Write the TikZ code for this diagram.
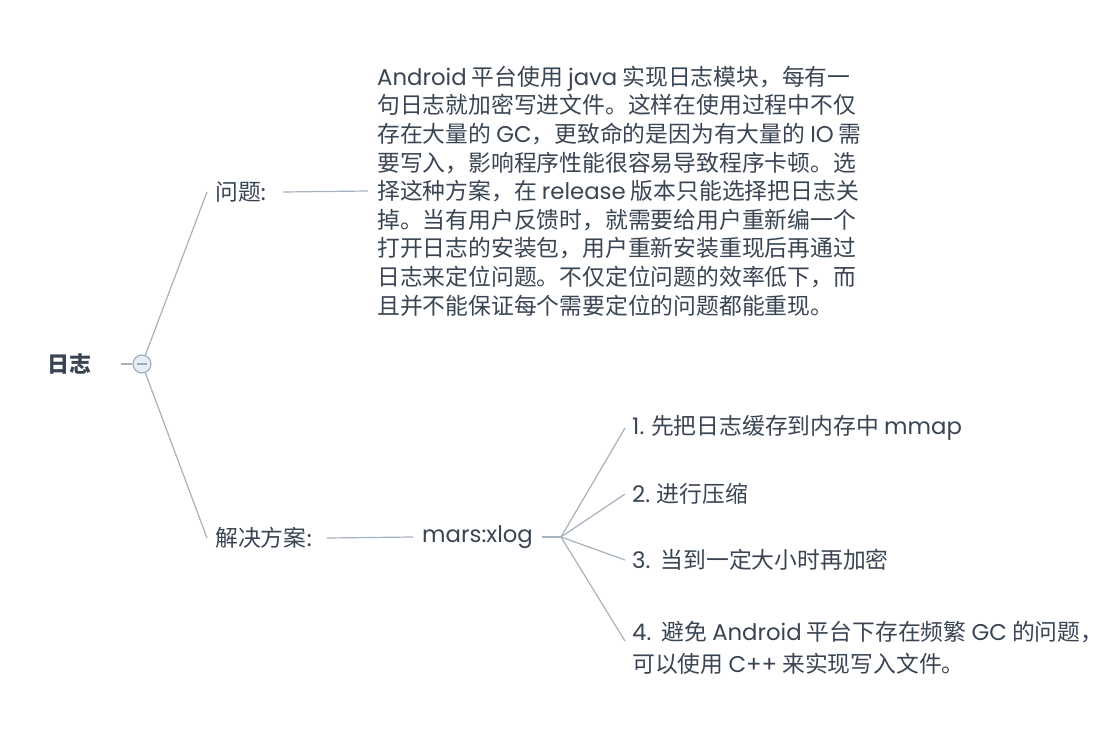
\documentclass[tikz,border=0pt]{standalone}
\usepackage{fontspec}
\setmainfont{Noto Sans CJK SC}
\newfontfamily\lat{Poppins}
\definecolor{txt}{HTML}{3A4554}
\definecolor{ln}{HTML}{A7B2BF}
\definecolor{cfill}{HTML}{E6EDF5}
\definecolor{cdraw}{HTML}{9EABB9}
\begin{document}
\begin{tikzpicture}[x=1pt,y=-1pt,
  lbl/.style={inner sep=0pt,anchor=west,text=txt,font=\fontsize{22.8}{28.6}\selectfont},
  conn/.style={draw=ln,line width=1.2pt}]
\useasboundingbox[fill=white] (0,0) rectangle (1111,735);
% root
\node[lbl,font=\fontsize{22}{28.6}\selectfont\bfseries] (root) at (47,364) {日志};
\node[circle,draw=cdraw,fill=cfill,line width=1.1pt,minimum size=18pt,inner sep=0pt] (col) at (142,364) {};
\draw[cdraw,line width=1.2pt] (137,364) -- (147,364);
\draw[conn] ([xshift=30pt]root.east) -- (col.west);
% level 1
\node[lbl] (q) at (215,192) {问题:};
\node[lbl] (s) at (215,538) {解决方案:};
\draw[conn] (col) -- ([xshift=-8pt]q.west);
\draw[conn] (col) -- ([xshift=-8pt]s.west);
% paragraph
\node[lbl,align=left] (para) at (377,191) {%
{\lat Android} 平台使用 {\lat java} 实现日志模块，每有一\\
句日志就加密写进文件。这样在使用过程中不仅\\
存在大量的 {\lat GC}，更致命的是因为有大量的 {\lat IO} 需\\
要写入，影响程序性能很容易导致程序卡顿。选\\
择这种方案，在 {\lat release} 版本只能选择把日志关\\
掉。当有用户反馈时，就需要给用户重新编一个\\
打开日志的安装包，用户重新安装重现后再通过\\
日志来定位问题。不仅定位问题的效率低下，而\\
且并不能保证每个需要定位的问题都能重现。};
\draw[conn] ([xshift=16pt]q.east) -- ([xshift=-9pt]para.west);
% mars
\node[lbl] (m) at (422,537) {\lat mars:xlog};
\draw[conn] ([xshift=14pt]s.east) -- ([xshift=-9pt]m.west);
\coordinate (hub) at (561,537);
\draw[conn] ([xshift=9pt]m.east) -- (hub);
% items
\node[lbl] (i1) at (632,428) {{\lat 1.} 先把日志缓存到内存中 {\lat mmap}};
\node[lbl] (i2) at (632,494) {{\lat 2.} 进行压缩};
\node[lbl] (i3) at (632,560) {{\lat 3.}\ \ 当到一定大小时再加密};
\node[lbl,align=left,font=\fontsize{22.8}{32}\selectfont] (i4) at (632,648) {{\lat 4.}\ \ 避免 {\lat Android} 平台下存在频繁 {\lat GC} 的问题，\\可以使用 {\lat C++} 来实现写入文件。};
\draw[conn] (hub) -- ([xshift=-7pt]i1.west);
\draw[conn] (hub) -- ([xshift=-7pt]i2.west);
\draw[conn] (hub) -- ([xshift=-7pt]i3.west);
\draw[conn] (hub) -- ([xshift=-7pt,yshift=7pt]i4.west);
\end{tikzpicture}
\end{document}
